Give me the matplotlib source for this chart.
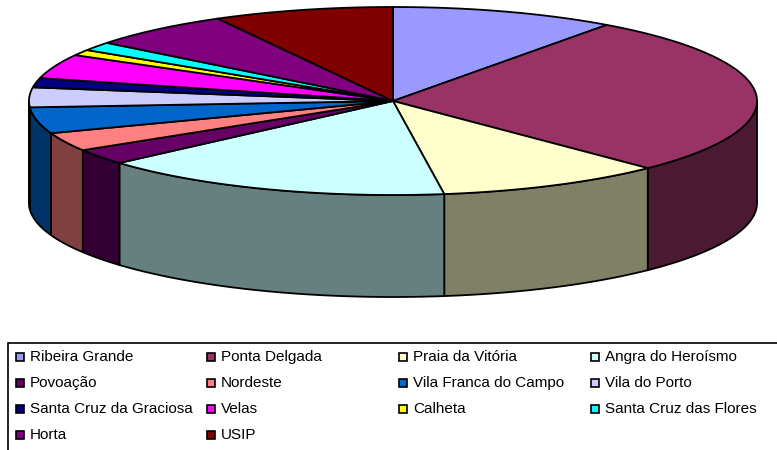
import numpy as np
import matplotlib.pyplot as plt
from matplotlib.patches import Polygon, Rectangle

plt.rcParams['font.family'] = ['Liberation Sans', 'DejaVu Sans']

# data (share of each municipality)
names = ["Ribeira Grande", "Ponta Delgada", "Praia da Vitória", "Angra do Heroísmo",
         "Povoação", "Nordeste", "Vila Franca do Campo", "Vila do Porto",
         "Santa Cruz da Graciosa", "Velas", "Calheta", "Santa Cruz das Flores",
         "Horta", "USIP"]
values = [10.0, 27.7, 10.1, 15.8, 2.7, 3.2, 4.5, 3.4, 1.6, 4.2, 1.0, 1.5, 6.4, 8.0]
colors = ["#9999FF", "#993366", "#FFFFCC", "#CCFFFF", "#660066", "#FF8080",
          "#0066CC", "#CCCCFF", "#000080", "#FF00FF", "#FFFF00", "#00FFFF",
          "#800080", "#800000"]

# ellipse geometry in pixel units
cx, cy, rx, ry, depth = 393, 101, 364, 94, 102


def dark(c):
    r, g, b = [int(c[i:i + 2], 16) / 255 for i in (1, 3, 5)]
    return (r * 0.5, g * 0.5, b * 0.5)


def arc(a, b, dy=0):
    t = np.radians(np.linspace(a, b, max(4, int(abs(a - b) * 2))))
    return np.column_stack([cx + rx * np.cos(t), cy - ry * np.sin(t) + dy])


fig = plt.figure(figsize=(7.77, 4.5), dpi=100)
ax = fig.add_axes([0, 0, 1, 1])
ax.set_xlim(0, 777)
ax.set_ylim(450, 0)
ax.axis('off')

vals = np.array(values, dtype=float)
bounds = 90 - np.concatenate([[0], np.cumsum(vals)]) / vals.sum() * 360

# side walls (front half only)
for i, c in enumerate(colors):
    t0, t1 = bounds[i], bounds[i + 1]
    a, b = min(t0, 0), max(t1, -180)
    if a > b:
        top = arc(a, b)
        bot = arc(b, a, depth)
        ax.add_patch(Polygon(np.vstack([top, bot]), closed=True, facecolor=dark(c),
                             edgecolor='black', lw=1.3, zorder=1))

# top faces
for i, c in enumerate(colors):
    pts = np.vstack([[cx, cy], arc(bounds[i], bounds[i + 1])])
    ax.add_patch(Polygon(pts, closed=True, facecolor=c, edgecolor='black',
                         lw=1.3, zorder=2))

# legend
ax.add_patch(Rectangle((8, 343), 800, 120, facecolor='white', edgecolor='black', lw=1.2))
col_x = [16, 207, 399, 591]
row_y = [357, 383, 409, 435]
for i, (n, c) in enumerate(zip(names, colors)):
    x, y = col_x[i % 4], row_y[i // 4]
    ax.add_patch(Rectangle((x, y - 4), 8, 8, facecolor=c, edgecolor='black', lw=1.2))
    ax.text(x + 14, y, n, fontsize=11, va='center', ha='left', color='black')

fig.savefig('out.png', dpi=100)
